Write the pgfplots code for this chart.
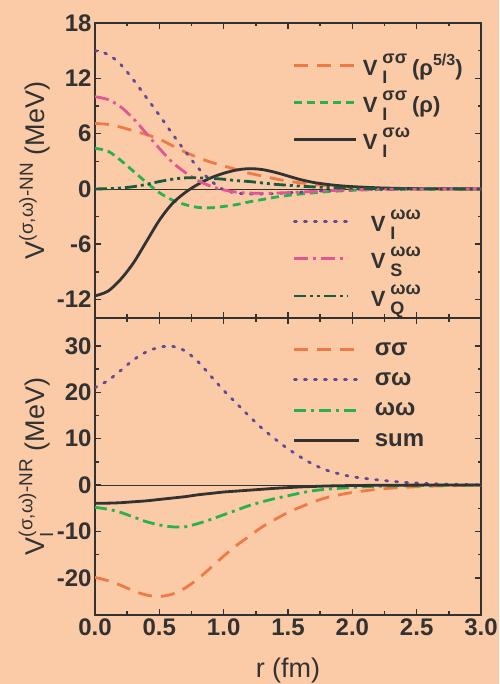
\documentclass[border=0pt]{standalone}
\usepackage{fontspec}
\setmainfont{Liberation Sans}
\usepackage{amsmath}
\usepackage{pgfplots}
\usepackage{pgfplotstable}
\pgfplotsset{compat=1.18}

\definecolor{bg}{RGB}{250,203,166}
\definecolor{ink}{RGB}{50,50,50}
\definecolor{corange}{RGB}{240,122,70}
\definecolor{cgreen}{RGB}{40,178,75}
\definecolor{cpurple}{RGB}{100,72,150}
\definecolor{cpink}{RGB}{226,86,150}
\definecolor{cdkgreen}{RGB}{28,90,62}

% V with stacked super/subscript, as in the legend
\newcommand\Vsc[2]{V\hspace{5pt}{\fontsize{18}{18}\selectfont\rlap{\raisebox{-8pt}{#2}}\raisebox{12pt}{#1}}}

% NN potentials (MeV) vs r (fm)
\pgfplotstableread{
r    sw     ssA   ssB    wI     wS     wQ
0.0  -11.6  7.1   4.4    15.0   10.0   0.0
0.1  -11.1  7.0   4.1    14.6   9.7    0.02
0.2  -9.8   6.7   3.1    13.5   8.9    0.1
0.3  -8.0   6.3   1.9    11.8   7.6    0.25
0.4  -5.7   5.9   0.7    9.9    6.0    0.5
0.5  -3.4   5.4   -0.4   8.0    4.4    0.8
0.6  -1.6   4.7   -1.2   6.0    2.9    1.05
0.7  -0.4   4.0   -1.7   4.1    1.8    1.2
0.8  0.5    3.4   -2.0   2.3    0.9    1.2
0.9  1.2    2.9   -2.05  0.9    0.3    1.15
1.0  1.7    2.5   -1.9   -0.1   -0.1   1.05
1.1  2.05   2.1   -1.7   -0.45  -0.35  0.9
1.2  2.2    1.7   -1.4   -0.55  -0.45  0.8
1.3  2.1    1.4   -1.15  -0.55  -0.47  0.65
1.4  1.8    1.1   -0.9   -0.5   -0.45  0.5
1.5  1.4    0.85  -0.7   -0.42  -0.4   0.4
1.6  1.0    0.65  -0.55  -0.35  -0.35  0.3
1.7  0.7    0.5   -0.42  -0.27  -0.27  0.22
1.8  0.5    0.35  -0.3   -0.2   -0.2   0.15
1.9  0.35   0.24  -0.22  -0.14  -0.14  0.11
2.0  0.25   0.15  -0.15  -0.1   -0.1   0.08
2.2  0.12   0.05  -0.07  -0.04  -0.04  0.03
2.4  0.05   0.02  -0.03  -0.02  -0.02  0.01
2.6  0.02   0     0      0      0      0
2.8  0.01   0     0      0      0      0
3.0  0      0     0      0      0      0
}\nntable

% NR potentials (MeV) vs r (fm)
\pgfplotstableread{
r    ss     sw    ww     sum
0.0  -19.9  21.0  -4.8   -3.9
0.1  -20.6  22.5  -5.2   -3.9
0.2  -21.6  24.7  -5.9   -3.8
0.3  -22.8  27.0  -6.9   -3.6
0.4  -23.7  28.7  -7.9   -3.4
0.5  -24.0  29.7  -8.6   -3.1
0.6  -23.5  29.9  -9.0   -2.8
0.7  -22.2  28.9  -9.0   -2.5
0.8  -20.2  26.6  -8.3   -2.1
0.9  -17.8  23.5  -7.4   -1.8
1.0  -15.3  20.4  -6.4   -1.5
1.1  -13.0  17.6  -5.4   -1.3
1.2  -11.0  14.8  -4.4   -1.1
1.3  -9.0   12.2  -3.6   -0.9
1.4  -7.4   9.9   -2.9   -0.7
1.5  -5.9   7.8   -2.3   -0.55
1.6  -4.7   6.0   -1.7   -0.4
1.7  -3.6   4.4   -1.2   -0.3
1.8  -2.7   3.2   -0.9   -0.2
1.9  -2.1   2.4   -0.7   -0.15
2.0  -1.6   1.8   -0.5   -0.1
2.2  -0.9   1.1   -0.25  -0.05
2.4  -0.5   0.6   -0.15  -0.02
2.6  -0.25  0.3   -0.08  0
2.8  -0.12  0.15  -0.04  0
3.0  -0.05  0.05  0      0
}\nrtable

\pgfplotsset{
  panel/.style={
    scale only axis, width=386pt, xmin=0, xmax=3,
    axis line style={ink, line width=1.8pt},
    tick style={ink, line width=1.5pt},
    major tick length=6pt, minor tick length=3.5pt,
    tick align=inside,
    xtick={0,0.5,...,3}, minor x tick num=1, minor y tick num=1,
    tick label style={font=\fontsize{24}{24}\selectfont\bfseries, text=ink},
    /pgf/number format/assume math mode=true,
    xticklabel style={/pgf/number format/.cd, fixed, fixed zerofill, precision=1},
    every axis y label/.style={at={(axis description cs:-0.13,0.5)}, rotate=90,
      anchor=base, font=\fontsize{27}{27}\selectfont, text=ink},
    every axis x label/.style={at={(axis description cs:0.5,-0.209)},
      anchor=base, font=\fontsize{27}{27}\selectfont, text=ink},
    legend cell align=left,
    legend style={draw=none, fill=none, inner sep=0pt, outer sep=0pt,
      nodes={inner sep=0pt}, text=ink},
    every axis plot/.append style={line width=2.8pt, smooth},
  },
  oran/.style={corange, dash pattern=on 14pt off 9pt},
  gdash/.style={cgreen, dash pattern=on 8pt off 5pt},
  purp/.style={cpurple, line cap=round, dash pattern=on 2pt off 8pt},
  pinkdd/.style={cpink, dash pattern=on 14pt off 5pt on 3pt off 5pt},
  dkq/.style={cdkgreen, dash pattern=on 12pt off 4pt on 3pt off 4pt on 3pt off 4pt},
  gdd/.style={cgreen, dash pattern=on 12pt off 5pt on 3pt off 5pt},
  solidk/.style={ink},
}

\begin{document}
\begin{tikzpicture}
\fill[bg, use as bounding box] (0,0) rectangle (499pt,684pt);

% top panel: NN
\begin{axis}[panel, at={(95pt,366pt)}, anchor=south west, height=295pt,
  ymin=-14, ymax=18, ytick={-12,-6,...,18}, xticklabels={},
  ylabel={$\text{V}^{\text{(σ,ω)-NN}}$ (MeV)},
  legend image code/.code={\draw[#1] (0pt,0pt) -- (62pt,0pt);},
  legend style={at={(axis description cs:0.513,0.895)}, anchor=north west,
    column sep=5pt, row sep=14pt, font=\fontsize{22}{22}\selectfont\bfseries}]
\addplot[ink, line width=0.8pt, sharp plot, forget plot] coordinates {(0,0) (3,0)};
\addplot[oran] table[x=r, y=ssA] {\nntable};
\addplot[gdash] table[x=r, y=ssB] {\nntable};
\addplot[solidk] table[x=r, y=sw] {\nntable};
\legend{\Vsc{σσ}{I}\hspace{5pt}(ρ\raisebox{10pt}{\fontsize{16}{16}\selectfont 5/3}),
  \Vsc{σσ}{I}\hspace{5pt}(ρ),
  \Vsc{σω}{I}}
\end{axis}
\begin{axis}[panel, hide axis, at={(95pt,366pt)}, anchor=south west, height=295pt,
  ymin=-14, ymax=18,
  legend image code/.code={\draw[#1] (0pt,0pt) -- (54pt,0pt);},
  legend style={at={(axis description cs:0.513,0.366)}, anchor=north west,
    column sep=21pt, row sep=14pt, font=\fontsize{22}{22}\selectfont\bfseries}]
\addplot[purp] table[x=r, y=wI] {\nntable};
\addplot[pinkdd] table[x=r, y=wS] {\nntable};
\addplot[dkq] table[x=r, y=wQ] {\nntable};
\legend{\Vsc{ωω}{I}, \Vsc{ωω}{S}, \Vsc{ωω}{Q}}
\end{axis}

% bottom panel: NR
\begin{axis}[panel, at={(95pt,69pt)}, anchor=south west, height=297pt,
  ymin=-28, ymax=36, ytick={-20,-10,...,30},
  xlabel={r (fm)},
  ylabel={$\text{V}^{\text{(σ,ω)-NR}}_{\text{I}}$ (MeV)},
  legend image code/.code={\draw[#1] (0pt,0pt) -- (65pt,0pt);},
  legend style={at={(axis description cs:0.513,0.918)}, anchor=north west,
    column sep=14pt, row sep=16pt, font=\fontsize{24}{24}\selectfont\bfseries}]
\addplot[ink, line width=0.8pt, sharp plot, forget plot] coordinates {(0,0) (3,0)};
\addplot[oran] table[x=r, y=ss] {\nrtable};
\addplot[purp] table[x=r, y=sw] {\nrtable};
\addplot[gdd] table[x=r, y=ww] {\nrtable};
\addplot[solidk] table[x=r, y=sum] {\nrtable};
\legend{σσ, σω, ωω, sum}
\end{axis}
\end{tikzpicture}
\end{document}
